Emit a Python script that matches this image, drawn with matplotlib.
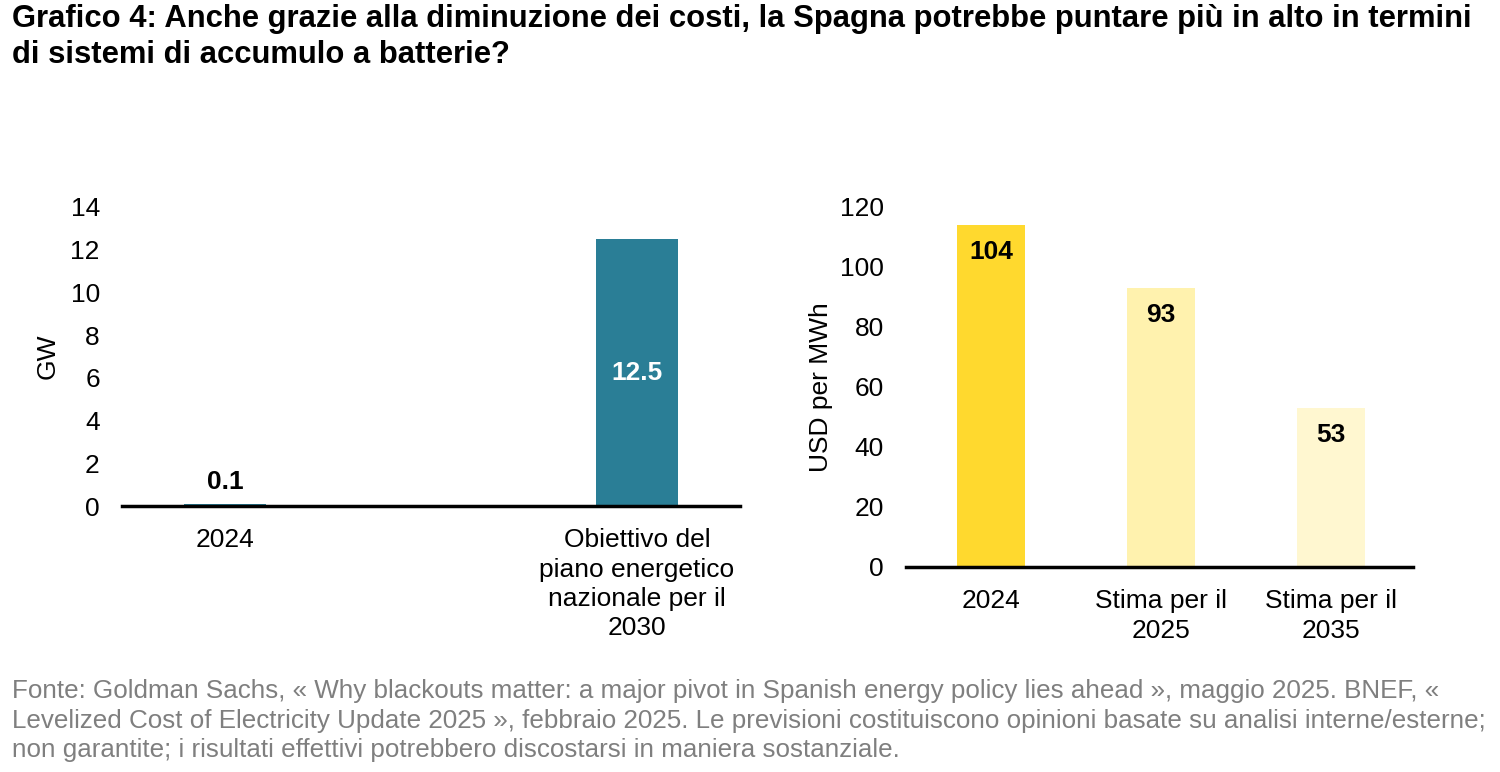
import matplotlib
matplotlib.use("Agg")
import matplotlib.pyplot as plt

plt.rcParams['font.family'] = ['Liberation Sans', 'DejaVu Sans']

# Data
left_categories = ["2024", "Obiettivo del\npiano energetico\nnazionale per il\n2030"]
left_values = [0.1, 12.5]
left_labels = ["0.1", "12.5"]
left_yticks = [0, 2, 4, 6, 8, 10, 12, 14]

right_categories = ["2024", "Stima per il\n2025", "Stima per il\n2035"]
right_values = [114, 93, 53]
right_labels = ["104", "93", "53"]
right_yticks = [0, 20, 40, 60, 80, 100, 120]

title = ("Grafico 4: Anche grazie alla diminuzione dei costi, la Spagna potrebbe puntare più in alto in termini\n"
         "di sistemi di accumulo a batterie?")
footer = ("Fonte: Goldman Sachs, « Why blackouts matter: a major pivot in Spanish energy policy lies ahead », maggio 2025. BNEF, «\n"
          "Levelized Cost of Electricity Update 2025 », febbraio 2025. Le previsioni costituiscono opinioni basate su analisi interne/esterne;\n"
          "non garantite; i risultati effettivi potrebbero discostarsi in maniera sostanziale.")

TEAL = "#2A7E96"
YELLOWS = ["#FFD92E", "#FFF2AE", "#FFF7D0"]
TXT = 19

fig = plt.figure(figsize=(15, 7.72), dpi=100)

def style(ax, yticks, ylim):
    for s in ["top", "right", "left"]:
        ax.spines[s].set_visible(False)
    ax.spines["bottom"].set_linewidth(2.5)
    ax.spines["bottom"].set_color("black")
    ax.set_ylim(*ylim)
    ax.set_yticks(yticks)
    ax.tick_params(axis="both", length=0, labelsize=TXT)
    ax.tick_params(axis="y", pad=16)
    ax.tick_params(axis="x", pad=16)

# Left chart
ax1 = fig.add_axes([122/1500, 1-506/772, (740-122)/1500, (506-207)/772])
x1 = list(range(len(left_categories)))
ax1.bar(x1, left_values, width=0.2, color=TEAL, zorder=1)
style(ax1, left_yticks, (0, 14))
ax1.set_xlim(-0.25, 1.25)
ax1.set_xticks(x1)
ax1.set_xticklabels(left_categories, linespacing=1.28)
ax1.set_ylabel("GW", fontsize=TXT, labelpad=8)
ax1.annotate(left_labels[0], (x1[0], left_values[0]), xytext=(0, 16), textcoords="offset points",
             ha="center", va="center", fontsize=TXT, fontweight="bold", color="black")
ax1.text(x1[1], left_values[1] / 2, left_labels[1], ha="center", va="center",
         fontsize=TXT, fontweight="bold", color="white")

# Right chart
ax2 = fig.add_axes([906/1500, 1-567/772, (1413-906)/1500, (567-207)/772])
x2 = list(range(len(right_categories)))
ax2.bar(x2, right_values, width=0.4, color=YELLOWS, zorder=1)
style(ax2, right_yticks, (0, 120))
ax2.set_xlim(-0.5, 2.48)
ax2.set_xticks(x2)
ax2.set_xticklabels(right_categories, linespacing=1.28)
ax2.set_ylabel("USD per MWh", fontsize=TXT, labelpad=5)
for xi, v, lab in zip(x2, right_values, right_labels):
    ax2.annotate(lab, (xi, v), xytext=(0, -19.5), textcoords="offset points",
                 ha="center", va="center", fontsize=TXT, fontweight="bold", color="black")

fig.text(12/1500, 1-4/772, title, ha="left", va="top", fontsize=22.3, fontweight="bold",
         linespacing=1.28)
fig.text(12/1500, 1-679/772, footer, ha="left", va="top", fontsize=18.7, color="#7F7F7F",
         linespacing=1.3)

fig.savefig("out.png", dpi=100)
